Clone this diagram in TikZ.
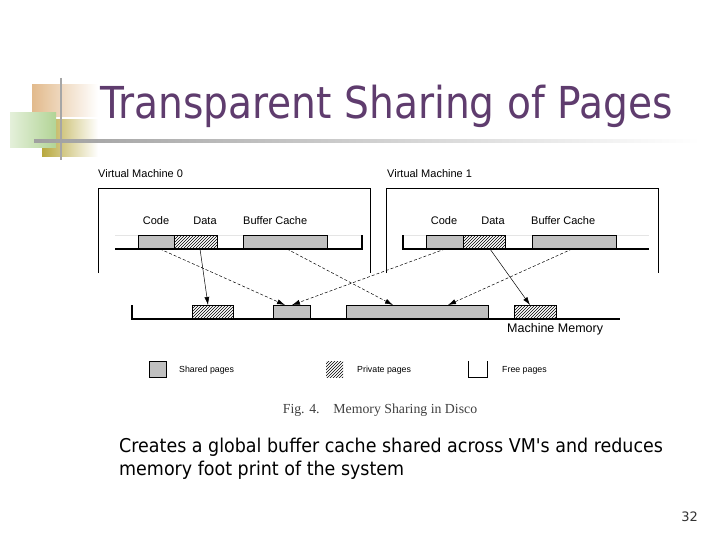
\documentclass[tikz,border=0pt]{standalone}
\usepackage{fontspec}
\usepackage{graphicx}
\newfontfamily\slidefont{DejaVu Sans}
\newfontfamily\figfont{Liberation Sans}
\newfontfamily\capfont{Liberation Serif}
\usetikzlibrary{positioning,arrows.meta,patterns}
\definecolor{titlepurple}{RGB}{95,60,110}
\definecolor{pagegray}{RGB}{192,192,192}
\definecolor{decotan}{RGB}{226,186,140}
\definecolor{decogreen}{RGB}{178,212,150}
\definecolor{decoolive}{RGB}{184,168,62}

\begin{document}
\begin{tikzpicture}[x=1pt, y=-1pt,
    % Stili per le pagine di memoria
    page/.style={
        rectangle,
        draw=black,
        line width=0.8pt,
        inner sep=0pt,
        outer sep=0pt,
        minimum height=14pt
    },
    shared/.style={page, fill=pagegray},
    private/.style={page, pattern=north east lines},
    % Stili per i contenitori
    vmframe/.style={draw=black, line width=0.9pt},
    membar/.style={draw=black, line width=1.2pt},
    % Stili per le frecce
    maparrow/.style={-{Latex[length=8pt,width=5pt]}, line width=0.5pt, dash pattern=on 3pt off 2pt},
    privarrow/.style={-{Latex[length=8pt,width=5pt]}, line width=0.5pt},
    % Stili per le etichette
    lbl/.style={font=\figfont\fontsize{11}{11}\selectfont, inner sep=0pt},
    keylbl/.style={font=\figfont\fontsize{8.8}{8.8}\selectfont, inner sep=0pt, anchor=base west}
]

\fill[white] (0,0) rectangle (720,540);
\useasboundingbox (0,0) rectangle (720,540);

% Decorazione del titolo
\shade[left color=decotan, right color=white] (32,85) rectangle (98,117);
\shade[left color=decoolive, right color=white] (42,120) rectangle (98,157);
\shade[left color=decogreen!35!white, right color=decogreen] (10,113) rectangle (56,148);
\draw[gray!70, line width=2.2pt] (61,78) -- (61,160);
\shade[left color=gray!75, right color=white] (34,140) rectangle (700,142.5);

% Titolo
\node[anchor=base west, inner sep=0pt, text=titlepurple,
      font=\slidefont\fontsize{44}{44}\selectfont] (title) at (100,119)
      {\scalebox{0.89}[1]{Transparent Sharing of Pages}};

% VIRTUAL MACHINE 0
\node[lbl, anchor=base west] (vm0name) at (98,177.5) {Virtual Machine 0};
\draw[vmframe] (98,273) -- (98,188) -- (370,188) -- (370,273);
\draw[gray!20, line width=0.6pt] (115,235) -- (362,235);
\node[shared, minimum width=36pt] (code0) at (156,242) {};
\node[private, minimum width=43pt] (data0) at (195.5,242) {};
\node[shared, minimum width=84pt] (buf0) at (285,242) {};
\draw[membar] (115,249) -- (362,249) -- (362,235);
\node[lbl, anchor=base] at (156,225) {Code};
\node[lbl, anchor=base] at (205,225) {Data};
\node[lbl, anchor=base west] at (243,225) {Buffer Cache};

% VIRTUAL MACHINE 1
\node[lbl, anchor=base west] (vm1name) at (387,177.5) {Virtual Machine 1};
\draw[vmframe] (386,273) -- (386,188) -- (658,188) -- (658,273);
\draw[gray!20, line width=0.6pt] (403,235) -- (649,235);
\node[shared, minimum width=37pt] (code1) at (444.5,242) {};
\node[private, minimum width=42pt] (data1) at (484,242) {};
\node[shared, minimum width=84pt] (buf1) at (574,242) {};
\draw[membar] (403,235) -- (403,249) -- (649,249);
\node[lbl, anchor=base] at (444,225) {Code};
\node[lbl, anchor=base] at (493,225) {Data};
\node[lbl, anchor=base west] at (531,225) {Buffer Cache};

% MACHINE MEMORY
\node[private, minimum width=41pt] (mpriv0) at (212.5,312) {};
\node[shared, minimum width=37pt] (mshare0) at (291.5,312) {};
\node[shared, minimum width=142pt] (mbuf) at (417,312) {};
\node[private, minimum width=42pt] (mpriv1) at (535,312) {};
\draw[membar] (132,305) -- (132,319) -- (620,319);
\node[lbl, anchor=base west, font=\figfont\fontsize{12.5}{12.5}\selectfont] (memname) at (507,332) {Machine Memory};

% Mappature condivise (tratteggiate)
\foreach \src/\dx/\dst/\ex in {code0/4/mshare0/-6.5, buf0/2/mbuf/-24, code1/0.5/mshare0/0.5, buf1/-2/mbuf/31} {
    \draw[maparrow] ([xshift=\dx]\src.south) -- ([xshift=\ex]\dst.north);
}
% Mappature private
\foreach \src/\dx/\dst/\ex in {data0/4.5/mpriv0/-4.5, data1/6/mpriv1/-5} {
    \draw[privarrow] ([xshift=\dx]\src.south) -- ([xshift=\ex]\dst.north);
}

% Legenda
\node[shared, minimum width=17pt, minimum height=16pt] (keyshared) at (157.5,369) {};
\node[keylbl] at (179,372) {Shared pages};
\node[rectangle, pattern=north east lines, inner sep=0pt, minimum width=17pt, minimum height=16pt] (keyprivate) at (334.5,369) {};
\node[keylbl] at (357,372) {Private pages};
\node[rectangle, inner sep=0pt, minimum width=18pt, minimum height=16pt] (keyfree) at (478,369) {};
\draw[line width=0.8pt] (keyfree.north west) -- (keyfree.south west) -- (keyfree.south east) -- (keyfree.north east);
\node[keylbl] at (502,372) {Free pages};

% Didascalia
\node[anchor=base, inner sep=0pt, text=black!75, font=\capfont\fontsize{13.8}{13.8}\selectfont] (caption) at (380,413) {Fig. 4.\quad Memory Sharing in Disco};

% Testo della slide
\node[anchor=base west, inner sep=0pt, align=left, font=\slidefont\fontsize{19}{23}\selectfont] (body) at (119,475)
    {\scalebox{0.92}[1]{Creates a global buffer cache shared across VM's and reduces}\\
     \scalebox{0.92}[1]{memory foot print of the system}};

\node[anchor=base east, inner sep=0pt, text=black!80, font=\slidefont\fontsize{13}{13}\selectfont] (pagenum) at (698,521) {32};

\end{tikzpicture}
\end{document}
